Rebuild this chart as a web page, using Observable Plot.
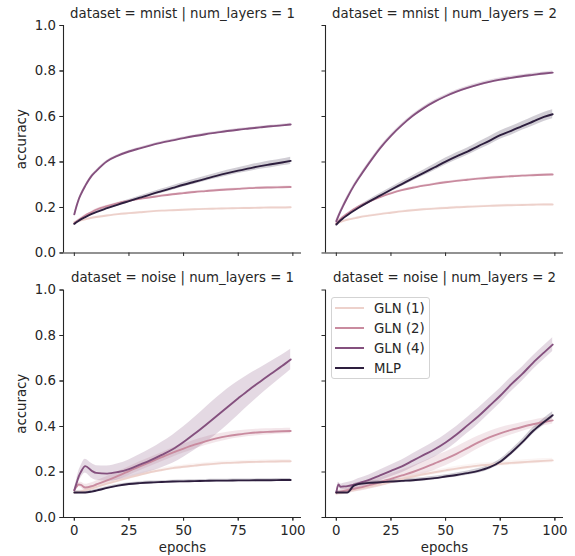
<!DOCTYPE html>
<html><head><meta charset="utf-8">
<script src="https://cdn.jsdelivr.net/npm/d3@7"></script>
<script src="https://cdn.jsdelivr.net/npm/@observablehq/plot@0.6"></script>
<style>
body{margin:0;background:#fff}
#wrap{position:relative;width:575px;height:556px;font-family:"DejaVu Sans";overflow:hidden}
#legend{position:absolute;left:331px;top:297px;width:97px;height:80px;border:1px solid #d3d3d3;border-radius:3px;background:rgba(255,255,255,0.85);font-size:13.3px;color:#262626}
.row{position:absolute;left:3px;height:20px;display:flex;align-items:center;white-space:nowrap}
.sw{width:29px;height:0;border-top:2px solid;margin-right:10px}
</style></head>
<body><div id="wrap"></div>
<script>
const epochs = [0,1,2,3,5,8,10,15,20,25,30,35,40,45,50,55,60,65,70,75,80,85,90,95,99];
const models = ["GLN (1)","GLN (2)","GLN (4)","MLP"];
const colors = ["#edd1cb","#c98b9f","#84507e","#2d1e3e"];
const datasets = ["mnist","noise"];
const layerCounts = [1,2];
const xTicks = [0,25,50,75,100];
const yTicks = [0,0.2,0.4,0.6,0.8,1.0];

// mnist, num_layers = 1
const mnist1_gln1 = [0.135,0.138,0.14,0.143,0.148,0.155,0.158,0.165,0.171,0.175,0.179,0.183,0.186,0.188,0.19,0.192,0.194,0.195,0.196,0.197,0.198,0.199,0.2,0.2,0.201];
const mnist1_gln2 = [0.13,0.138,0.145,0.152,0.165,0.18,0.19,0.206,0.219,0.229,0.238,0.245,0.252,0.258,0.263,0.268,0.272,0.276,0.279,0.282,0.285,0.287,0.288,0.289,0.29];
const mnist1_gln4 = [0.17,0.205,0.235,0.258,0.295,0.34,0.36,0.403,0.428,0.446,0.46,0.473,0.485,0.495,0.505,0.514,0.522,0.529,0.536,0.542,0.547,0.552,0.557,0.561,0.565];
const mnist1_mlp  = [0.128,0.135,0.142,0.148,0.158,0.172,0.18,0.197,0.213,0.228,0.243,0.258,0.272,0.286,0.3,0.313,0.326,0.339,0.351,0.362,0.372,0.382,0.39,0.398,0.405];
// mnist, num_layers = 2
const mnist2_gln1 = [0.13,0.133,0.137,0.14,0.146,0.152,0.156,0.164,0.171,0.177,0.183,0.188,0.192,0.195,0.198,0.201,0.203,0.205,0.207,0.209,0.21,0.211,0.212,0.213,0.213];
const mnist2_gln2 = [0.13,0.14,0.15,0.158,0.172,0.192,0.203,0.226,0.246,0.262,0.276,0.287,0.296,0.304,0.311,0.317,0.322,0.327,0.331,0.334,0.337,0.34,0.342,0.344,0.345];
const mnist2_gln4 = [0.14,0.163,0.185,0.205,0.243,0.295,0.325,0.395,0.46,0.515,0.562,0.603,0.637,0.665,0.689,0.709,0.726,0.74,0.752,0.762,0.77,0.777,0.783,0.789,0.793];
const mnist2_mlp  = [0.125,0.135,0.144,0.152,0.166,0.186,0.198,0.226,0.252,0.278,0.303,0.328,0.352,0.377,0.402,0.425,0.446,0.47,0.493,0.518,0.537,0.558,0.578,0.598,0.61];
// noise, num_layers = 1
const noise1_gln1 = [0.11,0.11,0.112,0.114,0.12,0.128,0.134,0.149,0.162,0.175,0.188,0.2,0.209,0.217,0.223,0.228,0.233,0.237,0.24,0.242,0.244,0.245,0.246,0.247,0.247];
const noise1_gln2 = [0.12,0.135,0.145,0.143,0.132,0.138,0.145,0.163,0.183,0.204,0.225,0.245,0.265,0.285,0.303,0.32,0.335,0.348,0.358,0.365,0.371,0.375,0.377,0.379,0.38];
const noise1_gln4 = [0.12,0.15,0.18,0.2,0.226,0.205,0.196,0.193,0.2,0.213,0.232,0.252,0.275,0.3,0.332,0.368,0.406,0.445,0.485,0.524,0.562,0.597,0.632,0.666,0.695];
const noise1_mlp  = [0.11,0.11,0.11,0.11,0.11,0.114,0.118,0.13,0.14,0.147,0.151,0.154,0.156,0.158,0.159,0.16,0.161,0.162,0.162,0.163,0.163,0.164,0.164,0.165,0.165];
// noise, num_layers = 2
const noise2_gln1 = [0.105,0.107,0.108,0.11,0.115,0.121,0.125,0.135,0.145,0.157,0.17,0.18,0.19,0.199,0.207,0.215,0.222,0.228,0.232,0.236,0.24,0.243,0.246,0.249,0.251];
const noise2_gln2 = [0.11,0.112,0.114,0.116,0.12,0.126,0.13,0.142,0.155,0.17,0.185,0.2,0.218,0.238,0.258,0.28,0.305,0.33,0.352,0.37,0.385,0.398,0.41,0.42,0.427];
const noise2_gln4 = [0.11,0.145,0.135,0.136,0.138,0.144,0.15,0.165,0.185,0.205,0.225,0.25,0.275,0.3,0.33,0.365,0.405,0.445,0.49,0.535,0.585,0.63,0.68,0.725,0.76];
const noise2_mlp  = [0.11,0.11,0.11,0.11,0.11,0.14,0.147,0.152,0.155,0.158,0.161,0.164,0.168,0.173,0.18,0.187,0.195,0.205,0.22,0.245,0.285,0.33,0.38,0.42,0.45];

// confidence band half-widths
const mnist1_gln1_ci = [0.003,0.003,0.003,0.003,0.003,0.003,0.003,0.003,0.003,0.003,0.003,0.003,0.003,0.003,0.003,0.003,0.003,0.003,0.003,0.003,0.003,0.003,0.003,0.003,0.003];
const mnist1_gln2_ci = [0.004,0.004,0.004,0.004,0.004,0.004,0.004,0.004,0.004,0.004,0.004,0.004,0.004,0.004,0.004,0.004,0.004,0.004,0.004,0.004,0.004,0.004,0.004,0.004,0.004];
const mnist1_gln4_ci = [0.005,0.005,0.005,0.005,0.005,0.005,0.005,0.005,0.005,0.005,0.005,0.005,0.005,0.005,0.005,0.005,0.005,0.005,0.005,0.005,0.005,0.005,0.005,0.005,0.005];
const mnist1_mlp_ci  = [0.004,0.004,0.004,0.004,0.004,0.005,0.005,0.006,0.006,0.007,0.008,0.008,0.009,0.01,0.01,0.011,0.011,0.012,0.013,0.013,0.014,0.014,0.015,0.015,0.016];
const mnist2_gln1_ci = [0.004,0.004,0.004,0.004,0.004,0.004,0.004,0.004,0.004,0.004,0.004,0.004,0.004,0.004,0.004,0.004,0.004,0.004,0.004,0.004,0.004,0.004,0.004,0.004,0.004];
const mnist2_gln2_ci = [0.004,0.004,0.004,0.004,0.004,0.004,0.004,0.004,0.004,0.004,0.004,0.004,0.004,0.004,0.004,0.004,0.004,0.004,0.004,0.004,0.004,0.004,0.004,0.004,0.004];
const mnist2_gln4_ci = [0.007,0.007,0.007,0.007,0.007,0.007,0.007,0.007,0.007,0.007,0.007,0.007,0.007,0.007,0.007,0.007,0.007,0.007,0.007,0.007,0.007,0.007,0.007,0.007,0.007];
const mnist2_mlp_ci  = [0.005,0.005,0.005,0.005,0.006,0.006,0.007,0.008,0.009,0.01,0.011,0.012,0.013,0.014,0.015,0.016,0.016,0.017,0.018,0.018,0.019,0.019,0.02,0.02,0.02];
const noise1_gln1_ci = [0.008,0.008,0.008,0.008,0.008,0.008,0.008,0.008,0.008,0.008,0.008,0.008,0.008,0.008,0.008,0.008,0.008,0.008,0.008,0.008,0.008,0.008,0.008,0.008,0.008];
const noise1_gln2_ci = [0.005,0.008,0.01,0.012,0.014,0.015,0.016,0.017,0.018,0.019,0.02,0.02,0.02,0.02,0.02,0.02,0.019,0.018,0.017,0.016,0.015,0.014,0.013,0.012,0.012];
const noise1_gln4_ci = [0.005,0.015,0.022,0.026,0.03,0.032,0.032,0.033,0.036,0.04,0.045,0.05,0.056,0.062,0.067,0.072,0.077,0.08,0.08,0.075,0.068,0.06,0.054,0.048,0.045];
const noise1_mlp_ci  = [0.006,0.006,0.006,0.006,0.006,0.006,0.006,0.006,0.006,0.006,0.006,0.006,0.006,0.006,0.006,0.006,0.006,0.006,0.006,0.006,0.006,0.006,0.006,0.006,0.006];
const noise2_gln1_ci = [0.01,0.01,0.01,0.01,0.01,0.01,0.01,0.01,0.01,0.01,0.01,0.01,0.01,0.01,0.01,0.01,0.01,0.01,0.01,0.01,0.01,0.01,0.01,0.01,0.01];
const noise2_gln2_ci = [0.005,0.008,0.01,0.012,0.014,0.015,0.016,0.018,0.02,0.022,0.024,0.026,0.028,0.03,0.03,0.03,0.03,0.028,0.026,0.024,0.022,0.02,0.018,0.017,0.016];
const noise2_gln4_ci = [0.005,0.01,0.012,0.014,0.016,0.018,0.02,0.022,0.024,0.026,0.028,0.03,0.032,0.034,0.035,0.035,0.035,0.035,0.034,0.033,0.032,0.031,0.03,0.03,0.03];
const noise2_mlp_ci  = [0.006,0.006,0.006,0.006,0.006,0.007,0.007,0.007,0.007,0.008,0.008,0.008,0.008,0.008,0.008,0.009,0.009,0.01,0.01,0.011,0.012,0.013,0.014,0.015,0.015];

const series = [
  ["mnist",1,"GLN (1)",mnist1_gln1,mnist1_gln1_ci],["mnist",1,"GLN (2)",mnist1_gln2,mnist1_gln2_ci],
  ["mnist",1,"GLN (4)",mnist1_gln4,mnist1_gln4_ci],["mnist",1,"MLP",mnist1_mlp,mnist1_mlp_ci],
  ["mnist",2,"GLN (1)",mnist2_gln1,mnist2_gln1_ci],["mnist",2,"GLN (2)",mnist2_gln2,mnist2_gln2_ci],
  ["mnist",2,"GLN (4)",mnist2_gln4,mnist2_gln4_ci],["mnist",2,"MLP",mnist2_mlp,mnist2_mlp_ci],
  ["noise",1,"GLN (1)",noise1_gln1,noise1_gln1_ci],["noise",1,"GLN (2)",noise1_gln2,noise1_gln2_ci],
  ["noise",1,"GLN (4)",noise1_gln4,noise1_gln4_ci],["noise",1,"MLP",noise1_mlp,noise1_mlp_ci],
  ["noise",2,"GLN (1)",noise2_gln1,noise2_gln1_ci],["noise",2,"GLN (2)",noise2_gln2,noise2_gln2_ci],
  ["noise",2,"GLN (4)",noise2_gln4,noise2_gln4_ci],["noise",2,"MLP",noise2_mlp,noise2_mlp_ci]
];
const rows = series.flatMap(([dataset, layers, model, vals, ci]) =>
  vals.map((v, i) => ({dataset, layers, model, epoch: epochs[i], acc: v, lo: v - ci[i], hi: v + ci[i]})));

const cells = datasets.flatMap(dataset => layerCounts.map(layers => ({dataset, layers})));
const xDomain = [-4.95, 103.95];
const ink = "#262626";

const chart = Plot.plot({
  width: 575, height: 556,
  marginLeft: 63, marginRight: 12, marginTop: 25, marginBottom: 39,
  style: {fontFamily: "DejaVu Sans", fontSize: "13.3px", color: ink, background: "transparent"},
  fx: {domain: layerCounts, paddingInner: 0.0916, paddingOuter: 0, round: false, axis: null},
  fy: {domain: datasets, paddingInner: 0.14, paddingOuter: 0, round: false, axis: null},
  x: {domain: xDomain},
  y: {domain: [0, 1]},
  color: {domain: models, range: colors},
  marks: [
    Plot.areaY(rows, {x: "epoch", y1: "lo", y2: "hi", z: "model", fill: "model", fillOpacity: 0.22, fx: "layers", fy: "dataset", curve: "monotone-x"}),
    Plot.line(rows, {x: "epoch", y: "acc", z: "model", stroke: "model", strokeWidth: 1.9, fx: "layers", fy: "dataset", curve: "monotone-x"}),
    Plot.ruleX([xDomain[0]], {y1: 0, y2: 1, stroke: ink, strokeWidth: 1.1}),
    Plot.ruleY([0], {x1: xDomain[0], x2: xDomain[1], stroke: ink, strokeWidth: 1.1}),
    Plot.axisX({ticks: xTicks, tickSize: 3.5, fill: "none", label: null, facetAnchor: null}),
    Plot.axisX({ticks: xTicks, tickSize: 3.5, tickPadding: 5, label: null}),
    Plot.axisY({ticks: yTicks, tickSize: 3.5, fill: "none", label: null, facetAnchor: null}),
    Plot.axisY({ticks: yTicks, tickSize: 3.5, tickPadding: 4, tickFormat: ".1f", label: null}),
    Plot.text(cells, {fx: "layers", fy: "dataset", text: d => `dataset = ${d.dataset} | num_layers = ${d.layers}`, frameAnchor: "top", dy: -8, lineAnchor: "bottom", fill: ink}),
    Plot.text(cells.filter(d => d.layers === 1), {fx: "layers", fy: "dataset", text: () => "accuracy", frameAnchor: "left", dx: -42, rotate: -90, textAnchor: "middle", fill: ink}),
    Plot.text(cells.filter(d => d.dataset === "noise"), {fx: "layers", fy: "dataset", text: () => "epochs", frameAnchor: "bottom", dy: 25, lineAnchor: "top", fill: ink})
  ]
});
const wrap = document.getElementById("wrap");
wrap.appendChild(chart);

const legend = document.createElement("div");
legend.id = "legend";
models.forEach((m, i) => {
  const row = document.createElement("div");
  row.className = "row";
  row.style.top = (i * 20) + "px";
  const sw = document.createElement("span");
  sw.className = "sw";
  sw.style.borderTopColor = colors[i];
  const t = document.createElement("span");
  t.textContent = m;
  row.appendChild(sw); row.appendChild(t);
  legend.appendChild(row);
});
wrap.appendChild(legend);
</script>
</body></html>
